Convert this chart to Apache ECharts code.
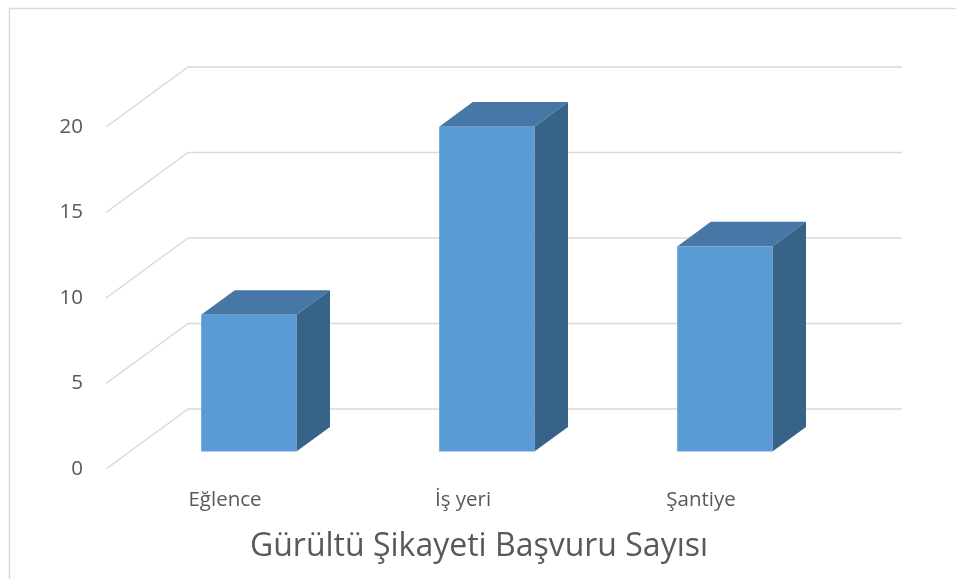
<!DOCTYPE html>
<html>
<head>
<meta charset="utf-8">
<script src="https://cdn.jsdelivr.net/npm/echarts@6/dist/echarts.min.js"></script>
<style>
  html, body { margin: 0; padding: 0; background: #fff; }
  #chart { width: 956px; height: 579px; }
</style>
</head>
<body>
<div id="chart"></div>
<script>
// veriler
const categories = ['Eğlence', 'İş yeri', 'Şantiye'];
const values = [8, 19, 12];
const yTicks = [0, 5, 10, 15, 20];
const chartTitle = 'Gürültü Şikayeti Başvuru Sayısı';

// 3B görünüm için derinlik kayması (piksel)
const DX = 82, DY = -60;
const D0 = 0.29, D1 = 0.70; // sütunun derinlikteki başlangıç / bitişi

const textColor = '#595959';
const font = '"Open Sans", "Noto Sans", sans-serif';

const chart = echarts.init(document.getElementById('chart'));

function renderWalls(params, api) {
  const cs = params.coordSys;
  const p = api.coord([0, api.value(0)]);
  const y = p[1];
  const style = { stroke: '#D9D9D9', lineWidth: 1.5, fill: null };
  return {
    type: 'group',
    children: [
      { type: 'line', shape: { x1: cs.x, y1: y, x2: cs.x + DX, y2: y + DY }, style: style },
      { type: 'line', shape: { x1: cs.x + DX, y1: y + DY, x2: cs.x + cs.width + DX, y2: y + DY }, style: style }
    ]
  };
}

function renderBar(params, api) {
  const i = api.value(0);
  const base = api.coord([i, 0]);
  const top = api.coord([i, api.value(1)]);
  const band = api.size([1, 0])[0];
  const w = band * 0.4;
  const x0 = base[0] - w / 2 + D0 * DX;
  const x1 = x0 + w;
  const yb = base[1] + D0 * DY;
  const yt = top[1] + D0 * DY;
  const ox = (D1 - D0) * DX, oy = (D1 - D0) * DY;
  return {
    type: 'group',
    children: [
      { // üst yüz
        type: 'polygon',
        shape: { points: [[x0, yt], [x1, yt], [x1 + ox, yt + oy], [x0 + ox, yt + oy]] },
        style: { fill: '#4677A6' }
      },
      { // yan yüz
        type: 'polygon',
        shape: { points: [[x1, yt], [x1 + ox, yt + oy], [x1 + ox, yb + oy], [x1, yb]] },
        style: { fill: '#386389' }
      },
      { // ön yüz
        type: 'rect',
        shape: { x: x0, y: yt, width: w, height: yb - yt },
        style: { fill: '#5B9BD5' }
      }
    ]
  };
}

const option = {
  backgroundColor: '#fff',
  animation: false,
  title: {
    text: chartTitle,
    left: 474,
    textAlign: 'center',
    top: 526,
    textStyle: { color: textColor, fontSize: 32, fontWeight: 'normal', fontFamily: font }
  },
  graphic: [
    {
      type: 'rect',
      left: 7, top: 6,
      shape: { width: 1000, height: 1000 },
      style: { fill: null, stroke: '#D9D9D9', lineWidth: 1.5 },
      silent: true
    }
  ],
  grid: { left: 106, top: 127, width: 714, height: 342 },
  xAxis: {
    type: 'category',
    data: categories,
    axisLine: { show: false },
    axisTick: { show: false },
    axisLabel: { color: textColor, fontSize: 20.5, fontFamily: font, margin: 21 }
  },
  yAxis: {
    type: 'value',
    min: 0,
    max: 20,
    interval: 5,
    axisLine: { show: false },
    axisTick: { show: false },
    splitLine: { show: false },
    axisLabel: { color: textColor, fontSize: 20.5, fontFamily: font, margin: 23, padding: [9, 0, 0, 0] }
  },
  series: [
    {
      type: 'custom',
      z: 1,
      silent: true,
      renderItem: renderWalls,
      encode: { y: 0 },
      data: yTicks.map(v => [v])
    },
    {
      type: 'custom',
      z: 2,
      renderItem: renderBar,
      encode: { x: 0, y: 1 },
      data: values.map((v, i) => [i, v])
    }
  ]
};

chart.setOption(option);
</script>
</body>
</html>
